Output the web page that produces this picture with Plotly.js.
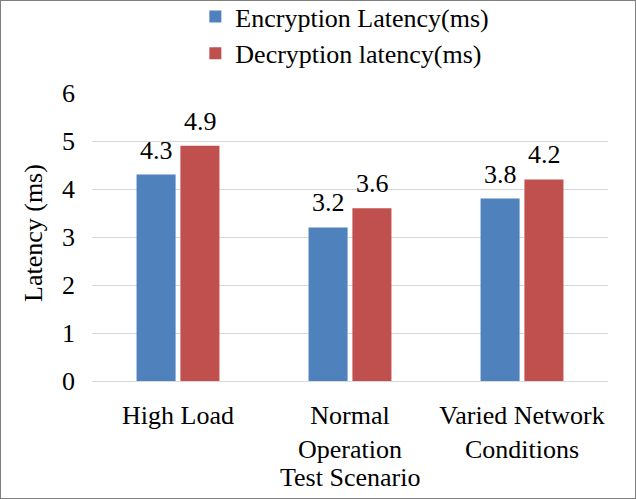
<!DOCTYPE html>
<html>
<head>
<meta charset="utf-8">
<script src="https://cdn.plot.ly/plotly-3.0.1.min.js"></script>
</head>
<body style="margin:0;background:#fff">
<div id="c" style="width:634px;height:497px;border:1px solid #7f7f7f"></div>
<script>
// Test scenarios and measured latencies (ms)
const scenarios = ["High Load", "Normal<br>Operation", "Varied Network<br>Conditions"];
const encryptionLatency = [4.3, 3.2, 3.8];
const decryptionLatency = [4.9, 3.6, 4.2];
const yTicks = [0, 1, 2, 3, 4, 5, 6];

const txt = () => ({ family: "Liberation Serif", size: 26, color: "#000" });

const traces = [
  {
    type: "bar",
    name: "Encryption Latency(ms)",
    x: scenarios,
    y: encryptionLatency,
    marker: { color: "#4F81BD" }
  },
  {
    type: "bar",
    name: "Decryption latency(ms)",
    x: scenarios,
    y: decryptionLatency,
    marker: { color: "#C0504D" }
  }
];

// Value labels above each bar, offset to sit over its group slot
const valueLabels = [];
[[encryptionLatency, -22], [decryptionLatency, 22]].forEach(([vals, dx]) => {
  vals.forEach((v, i) => {
    valueLabels.push({
      text: v.toFixed(1), font: txt(), showarrow: false,
      xref: "x", yref: "y", x: scenarios[i], y: v,
      xanchor: "center", yanchor: "bottom", xshift: dx, yshift: 8
    });
  });
});

const layout = {
  width: 634,
  height: 497,
  margin: { l: 91, r: 27, t: 92, b: 117, autoexpand: false },
  paper_bgcolor: "#fff",
  plot_bgcolor: "#fff",
  font: txt(),
  barmode: "group",
  bargap: 0.49,
  bargroupgap: 0.11,
  showlegend: true,
  legend: {
    orientation: "v",
    x: 0.49, xanchor: "center",
    y: 1.347, yanchor: "top",
    font: txt(),
    itemwidth: 30,
    tracegroupgap: 0,
    traceorder: "normal",
    bgcolor: "rgba(0,0,0,0)"
  },
  xaxis: {
    type: "category",
    showgrid: false,
    showline: false,
    ticks: "",
    ticklabelstandoff: 16,
    tickfont: txt()
  },
  yaxis: {
    range: [0, 6],
    tickvals: yTicks,
    ticktext: yTicks.map(String),
    showgrid: true,
    gridcolor: "#d9d9d9",
    gridwidth: 1,
    zeroline: true,
    zerolinecolor: "#d9d9d9",
    zerolinewidth: 1,
    showline: false,
    ticks: "",
    ticklabelstandoff: 16,
    tickfont: txt()
  },
  annotations: valueLabels.concat([
    {
      text: "Test Scenario", font: txt(), showarrow: false,
      xref: "paper", yref: "paper", x: 0.5, y: 0,
      xanchor: "center", yanchor: "middle", yshift: -96
    },
    {
      text: "Latency (ms)", font: txt(), showarrow: false, textangle: -90,
      xref: "paper", yref: "paper", x: 0, y: 0.5,
      xanchor: "center", yanchor: "middle", xshift: -59, yshift: 4
    }
  ])
};

Plotly.newPlot("c", traces, layout, { displayModeBar: false, staticPlot: true });
</script>
</body>
</html>
